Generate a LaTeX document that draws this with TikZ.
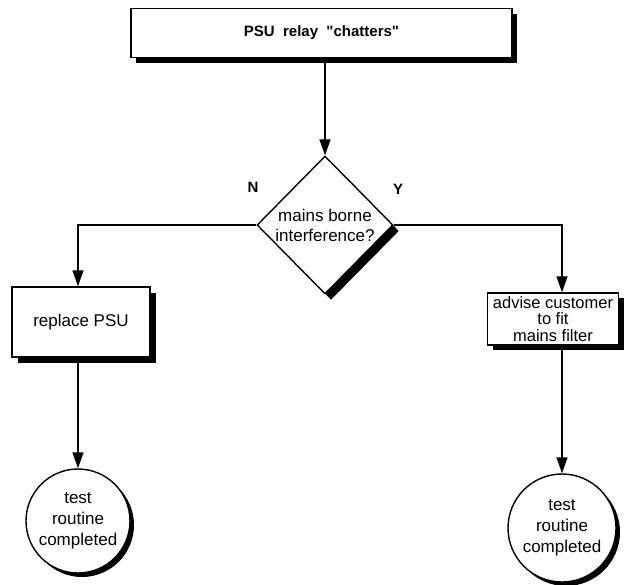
\documentclass[tikz,border=0pt]{standalone}
\usepackage{fontspec}
\setmainfont{Liberation Sans}[Ligatures=TeXOff]
\usetikzlibrary{shapes.geometric,shadows,arrows.meta}

\begin{document}
\begin{tikzpicture}[x=1pt,y=-1pt,
  font=\fontsize{17}{20}\selectfont,
  flowline/.style={line width=1.4pt},
  arrowline/.style={flowline,-{Triangle[width=11pt,length=16pt]}},
  hardshadow/.style={drop shadow={shadow xshift=#1,shadow yshift=-#1,fill=black,opacity=1}},
  stepbox/.style={draw,line width=1.4pt,fill=white,align=center,inner sep=0pt},
  decision/.style={stepbox,diamond,inner sep=0pt},
  endpoint/.style={stepbox,circle},
  branchlabel/.style={font=\fontsize{15}{18}\selectfont\bfseries}
]
\useasboundingbox (0,0) rectangle (624,584);

% start of the routine
\node[stepbox,hardshadow=5pt,minimum width=381pt,minimum height=49pt,
      font=\fontsize{15}{18}\selectfont\bfseries] (start) at (321.5,33)
  {PSU\ \ relay\ \ "chatters"};

% decision
\node[decision,hardshadow=6pt,minimum width=136pt,minimum height=138pt] (mains) at (325,225)
  {mains borne\\interference?};
\node[branchlabel] (nlabel) at (253,187) {N};
\node[branchlabel] (ylabel) at (398,189) {Y};

% actions
\node[stepbox,hardshadow=6pt,minimum width=138pt,minimum height=70pt] (replace) at (81,322)
  {replace PSU};
\node[stepbox,hardshadow=5pt,minimum width=131pt,minimum height=52pt,
      font=\fontsize{16.5}{16.5}\selectfont] (advise) at (553,319)
  {advise customer\\to fit\\mains filter};

% end points
\node[endpoint,hardshadow=4pt,minimum size=104pt,font=\fontsize{17}{21}\selectfont] (doneN) at (78,521)
  {test\\routine\\completed};
\node[endpoint,hardshadow=4pt,minimum size=108pt,font=\fontsize{17}{21}\selectfont] (doneY) at (562,528)
  {test\\routine\\completed};

% connectors
\draw[arrowline] (mains.north |- start.south) -- (mains.north);
\draw[arrowline] (mains.west) -| (doneN.north |- replace.north);
\draw[arrowline] (mains.east) -| (doneY.north |- advise.north);
\draw[arrowline] (doneN.north |- replace.south) -- (doneN.north);
\draw[arrowline] (doneY.north |- advise.south) -- (doneY.north);
\end{tikzpicture}
\end{document}
